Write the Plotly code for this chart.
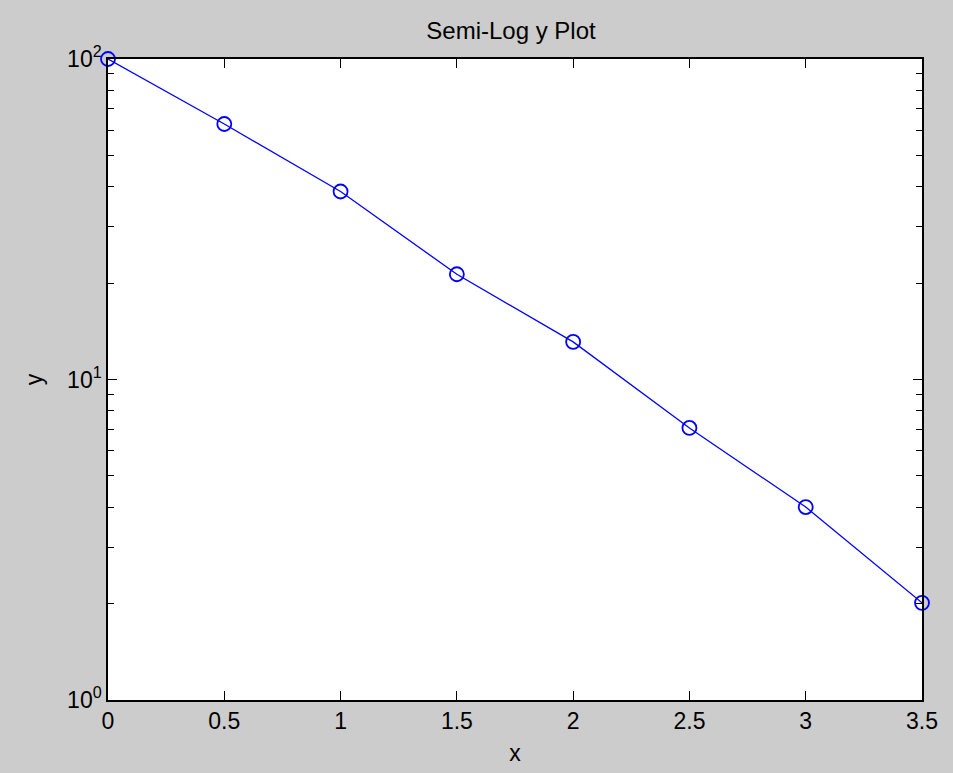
import plotly.graph_objects as go

x_vals = [0, 0.5, 1, 1.5, 2, 2.5, 3, 3.5]
y_vals = [100, 62.7, 38.6, 21.3, 13.1, 7.06, 4.0, 2.01]
x_ticks = [0, 0.5, 1, 1.5, 2, 2.5, 3, 3.5]
x_tick_labels = ["0", "0.5", "1", "1.5", "2", "2.5", "3", "3.5"]
y_ticks = [1, 10, 100]
y_tick_labels = ["10<sup>0</sup>", "10<sup>1</sup>", "10<sup>2</sup>"]
y_minor = [m * d for d in (1, 10) for m in range(2, 10)]

FAM = "Liberation Sans, Arial, sans-serif"

fig = go.Figure()
fig.add_trace(go.Scatter(
    x=x_vals, y=y_vals, mode="lines+markers",
    line=dict(color="#0000ff", width=1.3),
    marker=dict(symbol="circle-open", size=14, color="#0000ff", line=dict(width=1.8, color="#0000ff")),
    showlegend=False, cliponaxis=False,
))

fig.update_layout(
    width=953, height=773,
    paper_bgcolor="#cccccc", plot_bgcolor="#ffffff",
    margin=dict(l=108, r=31, t=59, b=73),
    font=dict(family=FAM, size=23, color="#000000"),
    title=dict(text="Semi-Log y Plot", x=511 / 953, xanchor="center", y=1 - 31 / 773, yanchor="middle",
               font=dict(family=FAM, size=24, color="#000000")),
    xaxis=dict(
        range=[0, 3.5], tickmode="array", tickvals=x_ticks, ticktext=x_tick_labels,
        ticks="inside", ticklen=9, tickwidth=1, tickcolor="#000000",
        tickfont=dict(family=FAM, size=23, color="#000000"),
        showline=True, linecolor="#000000", linewidth=1.5, mirror="allticks",
        showgrid=False, zeroline=False,
        title=dict(text="x", standoff=12, font=dict(family=FAM, size=23, color="#000000")),
    ),
    yaxis=dict(
        type="log", range=[0, 2], tickmode="array", tickvals=y_ticks, ticktext=y_tick_labels,
        ticks="inside", ticklen=9, tickwidth=1, tickcolor="#000000",
        tickfont=dict(family=FAM, size=23, color="#000000"),
        showline=True, linecolor="#000000", linewidth=1.5, mirror="allticks",
        showgrid=False, zeroline=False,
        minor=dict(tickmode="array", tickvals=y_minor, ticks="inside", ticklen=6,
                   tickwidth=1, tickcolor="#000000", showgrid=False),
        title=dict(text="y", standoff=18, font=dict(family=FAM, size=23, color="#000000")),
    ),
)

fig.write_html("out.html")
